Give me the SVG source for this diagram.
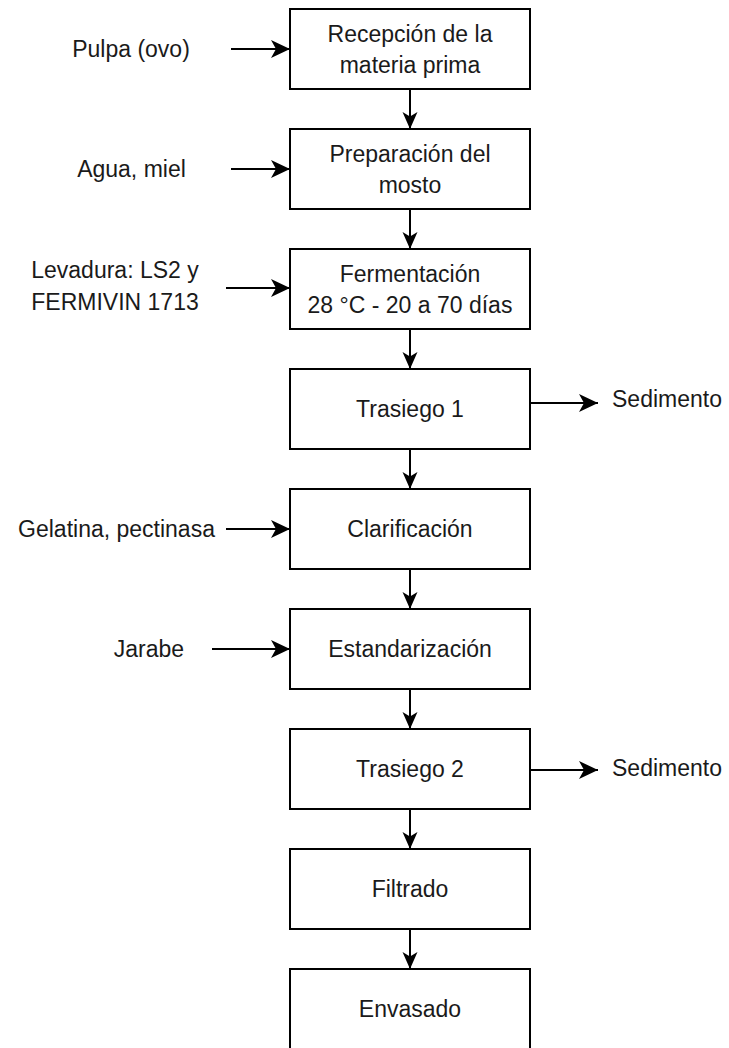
<svg xmlns="http://www.w3.org/2000/svg" width="729" height="1048" viewBox="0 0 729 1048">
  <style>
    .box { fill: #ffffff; stroke: #000000; stroke-width: 2; }
    .t { font-family: "Liberation Sans", Arial, sans-serif; font-size: 23px; fill: #1a1a1a; text-anchor: middle; }
    .ts { font-family: "Liberation Sans", Arial, sans-serif; font-size: 23px; fill: #1a1a1a; text-anchor: start; }
    .c { fill: none; stroke: #000000; stroke-width: 2; }
    .cv { marker-end: url(#arrV); }
    .ch { marker-end: url(#arrH); }
  </style>
  <defs>
    <marker id="arrV" markerUnits="userSpaceOnUse" viewBox="-17 -8 18 16" refX="0" refY="0" markerWidth="18" markerHeight="16" orient="auto">
      <path d="M0,0 L-17,-7.5 L-12.5,0 L-17,7.5 Z" fill="#000000"/>
    </marker>
    <marker id="arrH" markerUnits="userSpaceOnUse" viewBox="-19 -10 20 20" refX="0" refY="0" markerWidth="20" markerHeight="20" orient="auto">
      <path d="M0,0 L-19,-9 L-14,0 L-19,9 Z" fill="#000000"/>
    </marker>
  </defs>
  <rect width="729" height="1048" fill="#ffffff"/>

  <g id="connectors">
    <path class="c cv" d="M410,89 L410,129"/>
    <path class="c cv" d="M410,209 L410,249"/>
    <path class="c cv" d="M410,329 L410,369"/>
    <path class="c cv" d="M410,449 L410,489"/>
    <path class="c cv" d="M410,569 L410,609"/>
    <path class="c cv" d="M410,689 L410,729"/>
    <path class="c cv" d="M410,809 L410,849"/>
    <path class="c cv" d="M410,929 L410,969"/>
    <path class="c ch" d="M231,49 L290,49"/>
    <path class="c ch" d="M231,169 L290,169"/>
    <path class="c ch" d="M226,288 L290,288"/>
    <path class="c ch" d="M226,529 L290,529"/>
    <path class="c ch" d="M212,649 L290,649"/>
    <path class="c ch" d="M531,403 L598,403"/>
    <path class="c ch" d="M531,770 L598,770"/>
  </g>

  <g id="n1">
    <rect class="box" x="290" y="9" width="240" height="80"/>
    <text class="t" x="410" y="41.5">Recepción de la</text>
    <text class="t" x="410" y="72.5">materia prima</text>
  </g>
  <g id="n2">
    <rect class="box" x="290" y="129" width="240" height="80"/>
    <text class="t" x="410" y="161.5">Preparación del</text>
    <text class="t" x="410" y="192.5">mosto</text>
  </g>
  <g id="n3">
    <rect class="box" x="290" y="249" width="240" height="80"/>
    <text class="t" x="410" y="281.5">Fermentación</text>
    <text class="t" x="410" y="312.5">28 °C - 20 a 70 días</text>
  </g>
  <g id="n4">
    <rect class="box" x="290" y="369" width="240" height="80"/>
    <text class="t" x="410" y="417">Trasiego 1</text>
  </g>
  <g id="n5">
    <rect class="box" x="290" y="489" width="240" height="80"/>
    <text class="t" x="410" y="537">Clarificación</text>
  </g>
  <g id="n6">
    <rect class="box" x="290" y="609" width="240" height="80"/>
    <text class="t" x="410" y="657">Estandarización</text>
  </g>
  <g id="n7">
    <rect class="box" x="290" y="729" width="240" height="80"/>
    <text class="t" x="410" y="777">Trasiego 2</text>
  </g>
  <g id="n8">
    <rect class="box" x="290" y="849" width="240" height="80"/>
    <text class="t" x="410" y="897">Filtrado</text>
  </g>
  <g id="n9">
    <rect class="box" x="290" y="969" width="240" height="82"/>
    <text class="t" x="410" y="1017">Envasado</text>
  </g>

  <g id="in1"><text class="t" x="131" y="57">Pulpa (ovo)</text></g>
  <g id="in2"><text class="t" x="131.5" y="177">Agua, miel</text></g>
  <g id="in3">
    <text class="t" x="115" y="278">Levadura: LS2 y</text>
    <text class="t" x="115" y="310">FERMIVIN 1713</text>
  </g>
  <g id="in4"><text class="t" x="116.5" y="537">Gelatina, pectinasa</text></g>
  <g id="in5"><text class="t" x="149" y="657">Jarabe</text></g>
  <g id="out1"><text class="ts" x="612" y="407">Sedimento</text></g>
  <g id="out2"><text class="ts" x="612" y="776">Sedimento</text></g>
</svg>
